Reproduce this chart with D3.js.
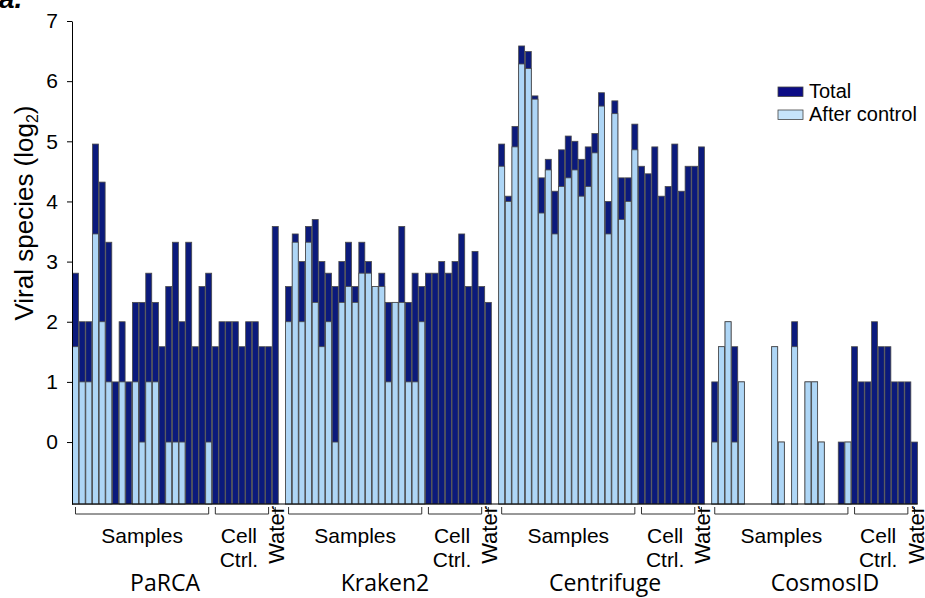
<!DOCTYPE html>
<html>
<head>
<meta charset="utf-8">
<script src="https://cdn.jsdelivr.net/npm/d3@7"></script>
<style>
  body { margin: 0; background: #fff; }
  text { font-family: "Liberation Sans", Arial, Helvetica, sans-serif; fill: #000; }
</style>
</head>
<body>
<div id="chart"></div>
<script>
var svgWidth = 925;
var svgHeight = 598;

// ** data **
//===========
var tools = ["PaRCA", "Kraken2", "Centrifuge", "CosmosID"];
var groupNames = ["Samples", "Cell Ctrl.", "Water"];
var groupSizes = [21, 9, 1];
var yTicks = [0, 1, 2, 3, 4, 5, 6, 7];
var seriesNames = ["Total", "After control"];

// viral species counts: 21 samples, 9 cell controls, 1 water
var parcaTotal = [7, 4, 4, 31, 20, 10, 2, 4, 2, 5, 5, 7, 5, 3, 6, 10, 4, 10, 3, 6, 7,
                  3, 4, 4, 4, 3, 4, 4, 3, 3,
                  12];
var parcaAfter = [3, 2, 2, 11, 4, 2, 0, 2, 0, 2, 1, 2, 2, 0, 1, 1, 1, 0, 0, 0, 1,
                  0, 0, 0, 0, 0, 0, 0, 0, 0,
                  0];
var krakenTotal = [6, 11, 8, 12, 13, 8, 7, 6, 8, 10, 6, 10, 8, 6, 7, 5, 5, 12, 5, 7, 6,
                   7, 7, 8, 7, 8, 11, 6, 9, 6,
                   5];
var krakenAfter = [4, 10, 4, 10, 5, 3, 4, 1, 5, 6, 5, 7, 7, 6, 6, 2, 5, 5, 2, 2, 4,
                   0, 0, 0, 0, 0, 0, 0, 0, 0,
                   0];
var centrifugeTotal = [31, 17, 38, 96, 90, 54, 21, 26, 18, 29, 34, 32, 26, 30, 35, 56, 16, 51, 21, 21, 39,
                       24, 22, 30, 17, 19, 31, 18, 24, 24,
                       30];
var centrifugeAfter = [24, 16, 30, 78, 74, 52, 14, 23, 11, 19, 21, 23, 17, 19, 28, 48, 11, 44, 13, 16, 29,
                       0, 0, 0, 0, 0, 0, 0, 0, 0,
                       0];
var cosmosTotal = [2, 3, 4, 3, 2, 0, 0, 0, 0, 3, 1, 0, 4, 0, 2, 2, 1, 0, 0, 1, 1,
                   3, 2, 2, 4, 3, 3, 2, 2, 2,
                   1];
var cosmosAfter = [1, 3, 4, 1, 2, 0, 0, 0, 0, 3, 1, 0, 3, 0, 2, 2, 1, 0, 0, 0, 1,
                   0, 0, 0, 0, 0, 0, 0, 0, 0,
                   0];

var totals = [parcaTotal, krakenTotal, centrifugeTotal, cosmosTotal];
var afters = [parcaAfter, krakenAfter, centrifugeAfter, cosmosAfter];

// one slot per bar, one empty slot between tools
var slotsPerTool = 32;
var rows = [];
tools.forEach(function(tool, t) {
  totals[t].forEach(function(v, i) {
    rows.push({tool: tool, slot: t * slotsPerTool + i, total: v, after: afters[t][i]});
  });
});

var svg = d3.select("#chart")
  .append("svg")
  .attr("width", svgWidth)
  .attr("height", svgHeight);

// ** scales **
//=============
var x = d3.scaleBand()
  .domain(d3.range(tools.length * slotsPerTool - 1))
  .range([72.5, 917.5])
  .paddingInner(0.1)
  .paddingOuter(0);

var y = d3.scaleLinear()
  .domain([-1.03, 7])
  .range([504, 21]);

var base = y(y.domain()[0]);
var darkBlue = "#0b1a7c";
var lightBlue = "#aed6f6";

// ** bars **
//===========
svg.selectAll(".totalBar")
  .data(rows.filter(d => d.total > 0))
  .enter()
  .append("rect")
  .attr("class", "totalBar")
  .attr("x", d => x(d.slot))
  .attr("width", x.bandwidth())
  .attr("y", d => y(Math.log2(d.total)))
  .attr("height", d => base - y(Math.log2(d.total)))
  .attr("fill", darkBlue)
  .attr("stroke", "#4a4a4a")
  .attr("stroke-width", 0.8);

svg.selectAll(".afterBar")
  .data(rows.filter(d => d.after > 0))
  .enter()
  .append("rect")
  .attr("class", "afterBar")
  .attr("x", d => x(d.slot))
  .attr("width", x.bandwidth())
  .attr("y", d => y(Math.log2(d.after)))
  .attr("height", d => base - y(Math.log2(d.after)))
  .attr("fill", lightBlue)
  .attr("stroke", "#4a4a4a")
  .attr("stroke-width", 0.8);

// ** axes **
//===========
var leftAxis = d3.axisLeft(y)
  .tickValues(yTicks)
  .tickSize(5)
  .tickSizeOuter(0)
  .tickPadding(9)
  .tickFormat(d3.format("d"));

var yAxisG = svg.append("g")
  .attr("transform", "translate(72, 0)")
  .call(leftAxis);
yAxisG.selectAll("text")
  .style("font-size", "21px");
yAxisG.select(".domain").attr("stroke", "#000");

// baseline
svg.append("line")
  .attr("x1", 72)
  .attr("x2", x.range()[1])
  .attr("y1", base)
  .attr("y2", base)
  .attr("stroke", "#000")
  .attr("stroke-width", 1);

// y label
var yLabel = svg.append("text")
  .attr("transform", "translate(33, 213) rotate(-90)")
  .attr("text-anchor", "middle")
  .attr("font-size", "26px");
yLabel.append("tspan").text("Viral species (log");
yLabel.append("tspan").attr("font-size", "16px").attr("dy", 5).text("2");
yLabel.append("tspan").attr("dy", -5).text(")");

// ** group brackets and labels **
//================================
tools.forEach(function(tool, t) {
  var start = t * slotsPerTool;
  var half = x.bandwidth() / 2;
  groupSizes.forEach(function(n, g) {
    var x0 = x(start) + half;
    var x1 = x(start + n - 1) + half;
    var mid = (x0 + x1) / 2;
    if (n > 1) {
      svg.append("path")
        .attr("d", `M${x0},507V514H${x1}V507`)
        .attr("fill", "none")
        .attr("stroke", "#333")
        .attr("stroke-width", 1);
    } else {
      svg.append("path")
        .attr("d", `M${x0},507V514`)
        .attr("stroke", "#333")
        .attr("stroke-width", 1);
    }
    if (g === 0) {
      svg.append("text")
        .attr("x", mid)
        .attr("y", 543)
        .attr("text-anchor", "middle")
        .attr("font-size", "21px")
        .text(groupNames[g]);
    } else if (g === 1) {
      var words = groupNames[g].split(" ");
      words.forEach(function(w, k) {
        svg.append("text")
          .attr("x", mid - 3)
          .attr("y", 543 + k * 24)
          .attr("text-anchor", "middle")
          .attr("font-size", "21px")
          .text(w);
      });
    } else {
      svg.append("text")
        .attr("transform", `translate(${x0 + 9}, 506) rotate(-90)`)
        .attr("text-anchor", "end")
        .attr("font-size", "22px")
        .text(groupNames[g]);
    }
    start += n;
  });
});

// tool names
var toolScale = d3.scalePoint()
  .domain(tools)
  .range([165, 825]);

svg.selectAll(".toolLabel")
  .data(tools)
  .enter()
  .append("text")
  .attr("class", "toolLabel")
  .attr("x", d => toolScale(d))
  .attr("y", 591)
  .attr("text-anchor", "middle")
  .style("font-family", "'Open Sans', 'Noto Sans', sans-serif")
  .style("font-size", "23px")
  .text(d => d);

// ** legend **
//=============
var legend = svg.selectAll(".legendItem")
  .data(seriesNames)
  .enter()
  .append("g")
  .attr("class", "legendItem")
  .attr("transform", (d, i) => `translate(778, ${87 + i * 23})`);

legend.append("rect")
  .attr("width", 25)
  .attr("height", 9.5)
  .attr("fill", (d, i) => i === 0 ? "#0c0c86" : "#c6e4fa")
  .attr("stroke", "#444")
  .attr("stroke-width", 0.8);

legend.append("text")
  .attr("x", 31)
  .attr("y", 11)
  .attr("font-size", "20px")
  .text(d => d);

// panel letter (cut at the top edge)
svg.append("text")
  .attr("x", -1)
  .attr("y", 8)
  .attr("font-size", "28px")
  .attr("font-weight", "bold")
  .attr("font-style", "italic")
  .text("a.");
</script>
</body>
</html>
